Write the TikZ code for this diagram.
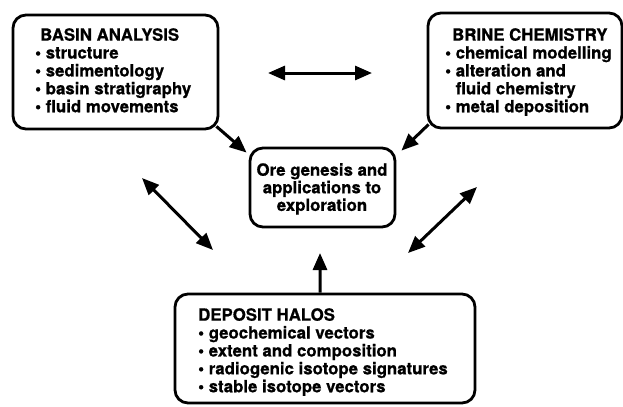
\documentclass[tikz,border=0pt]{standalone}
\usepackage{fontspec}
\setmainfont{TeX Gyre Heros}[BoldFeatures={FakeBold=0.8}]
\usetikzlibrary{arrows.meta}
\tikzset{
  box/.style={draw, line width=2.8bp, rounded corners=13bp, inner sep=0pt},
  txt/.style={inner sep=0pt, align=left, font=\fontsize{16.8bp}{17.9bp}\selectfont\bfseries},
  ctxt/.style={inner sep=0pt, align=center, font=\fontsize{16.8bp}{17.6bp}\selectfont\bfseries},
  arr/.style={line width=3bp, -{Triangle[length=17bp,width=14bp]}},
  darr/.style={line width=3bp, {Triangle[length=17bp,width=14bp]}-{Triangle[length=17bp,width=14bp]}}
}
\begin{document}
\begin{tikzpicture}[x=1bp,y=-1bp]
\useasboundingbox (0,0) rectangle (623,406);
% boxes
\node[box, minimum width=205bp, minimum height=114bp] (basin) at (115.5,72) {};
\node[box, minimum width=194bp, minimum height=115bp] (brine) at (525,70.5) {};
\node[box, minimum width=145bp, minimum height=79bp] (center) at (322.5,187.5) {};
\node[box, minimum width=300bp, minimum height=109bp] (deposit) at (325,348.5) {};
% texts
\node[txt, anchor=north west] (basintxt) at (35,28) {\hspace*{5bp}BASIN ANALYSIS\\
\textbullet\ structure\\
\textbullet\ sedimentology\\
\textbullet\ basin stratigraphy\\
\textbullet\ fluid movements};
\node[txt, anchor=north west] (brinetxt) at (445,28) {\hspace*{7bp}BRINE CHEMISTRY\\
\textbullet\ chemical modelling\\
\textbullet\ alteration and\\
\hphantom{\textbullet\ }fluid chemistry\\
\textbullet\ metal deposition};
\node[ctxt, anchor=north] (centertxt) at (322,163) {Ore genesis and\\applications to\\exploration};
\node[txt, anchor=north west] (deposittxt) at (198,308) {DEPOSIT HALOS\\
\textbullet\ geochemical vectors\\
\textbullet\ extent and composition\\
\textbullet\ radiogenic isotope signatures\\
\textbullet\ stable isotope vectors};
% free ends
\coordinate (h1) at (268,73);
\coordinate (h2) at (372,73);
\coordinate (l1) at (142,178);
\coordinate (l2) at (213,250);
\coordinate (r1) at (477,187);
\coordinate (r2) at (408,253);
\coordinate (vtip) at (320,253);
% connectors
\draw[darr] (h1) -- (h2);
\draw[darr] (l1) -- (l2);
\draw[darr] (r1) -- (r2);
\draw[arr] ([shift={(-3,-4)}]basin.south east) -- ([shift={(-2,6)}]center.north west);
\draw[arr] ([shift={(2,-5)}]brine.south west) -- ([shift={(5,4)}]center.north east);
\draw[arr] ([xshift=-5bp]deposit.north) -- (vtip);
\end{tikzpicture}
\end{document}
